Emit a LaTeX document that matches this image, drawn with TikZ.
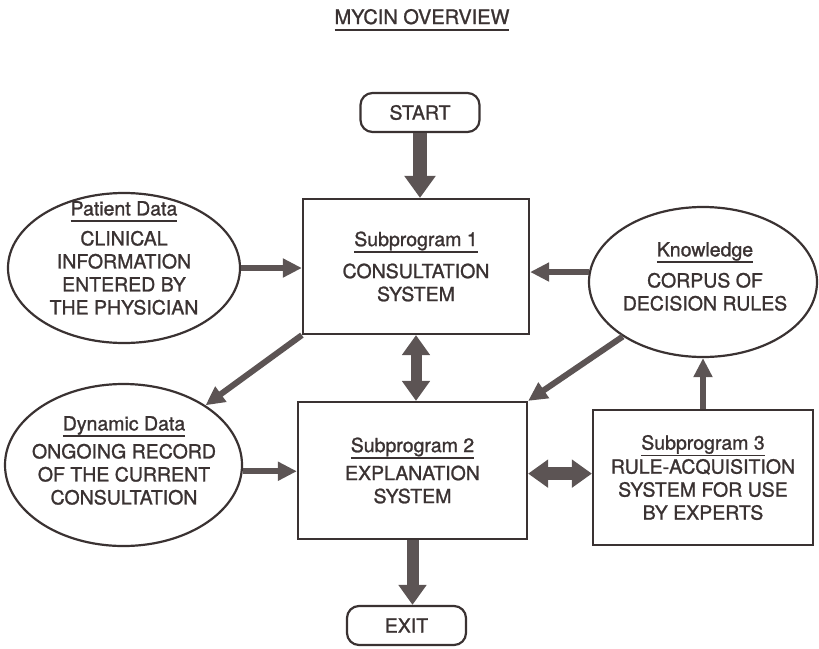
\documentclass[tikz,border=0pt]{standalone}
\usepackage{fontspec}
\setmainfont{TeX Gyre Heros}[BoldFont={TeX Gyre Heros}, BoldFeatures={FakeBold=1.2}]
\usetikzlibrary{arrows.meta,shapes.geometric}
\definecolor{ink}{RGB}{58,50,50}
\definecolor{arr}{RGB}{92,84,84}
\newcommand\subt[1]{\sbox0{#1}\rlap{\usebox0}\rule[-6.5pt]{\wd0}{1.6pt}}
\begin{document}
\begin{tikzpicture}[x=1pt,y=-1pt,
  txt/.style={text=ink, font=\fontsize{19.5}{23}\selectfont\bfseries, align=center, inner sep=0pt},
  box/.style={draw=ink, line width=2.2pt, rectangle, inner sep=0pt, txt},
  ell/.style={draw=ink, line width=2.2pt, ellipse, inner sep=0pt},
  term/.style={draw=ink, line width=2.2pt, rounded corners=12pt, minimum width=119pt, minimum height=39pt, txt},
  thinarrow/.style={draw=arr, line width=6pt, -{Triangle[width=18pt,length=19pt]}},
  fatstart/.style={draw=arr, line width=14pt, -{Triangle[width=30pt,length=22pt]}},
  fatexit/.style={draw=arr, line width=12pt, -{Triangle[width=27pt,length=20pt]}},
  fatdouble/.style={draw=arr, line width=#1, {Triangle[width=27pt,length=20pt]}-{Triangle[width=27pt,length=20pt]}}
]
\useasboundingbox (0,0) rectangle (819,648);

\node[txt, font=\fontsize{20}{24}\selectfont\bfseries, anchor=base] (title) at (422,24) {\subt{MYCIN OVERVIEW}};

\node[term] (start) at (420,112.5) {START};
\node[term] (exit) at (406.5,625.5) {EXIT};

\node[box, minimum width=226pt, minimum height=135pt] (sub1) at (416,266.5)
  {\subt{Subprogram 1}\\[9pt] CONSULTATION\\ SYSTEM};
\node[box, minimum width=229pt, minimum height=137pt] (sub2) at (412.5,470.5)
  {\subt{Subprogram 2}\\[5pt] EXPLANATION\\ SYSTEM};
\node[box, minimum width=220pt, minimum height=135pt] (sub3) at (703,477.5)
  {\subt{Subprogram 3}\\[1pt] RULE-ACQUISITION\\ SYSTEM FOR USE\\ BY EXPERTS};

\node[ell, minimum width=232pt, minimum height=150pt] (pat) at (124,268) {};
\node[txt, anchor=north] (pattext) at (124,201)
  {\subt{Patient Data}\\[7pt] CLINICAL\\ INFORMATION\\ ENTERED BY\\ THE PHYSICIAN};

\node[ell, minimum width=228pt, minimum height=150pt] (know) at (703,282) {};
\node[txt, anchor=north] (knowtext) at (705,242)
  {\subt{Knowledge}\\[8pt] CORPUS OF\\ DECISION RULES};

\node[ell, minimum width=237pt, minimum height=162pt] (dyn) at (123.5,465) {};
\node[txt, anchor=north] (dyntext) at (124,416)
  {\subt{Dynamic Data}\\[5pt] ONGOING RECORD\\ OF THE CURRENT\\ CONSULTATION};

% connectors
\draw[fatstart] (start.south) -- (start.south |- sub1.north);
\draw[fatdouble=11pt] (sub1.south) -- (sub1.south |- sub2.north);
\draw[fatexit] (sub2.south) -- (sub2.south |- exit.north);
\draw[fatdouble=13pt] (sub3.178 -| sub2.east) -- (sub3.178);

\draw[thinarrow] (pat.east) -- (pat.east -| sub1.west);
\draw[thinarrow] (know.175) -- (know.175 -| sub1.east);
\draw[thinarrow] (sub1.south west) -- (dyn);
\draw[thinarrow] (know) -- (sub2.north east);
\draw[thinarrow] (dyn.357) -- (dyn.357 -| sub2.west);
\draw[thinarrow] (sub3.north) -- (sub3.north |- know.south);
\end{tikzpicture}
\end{document}
